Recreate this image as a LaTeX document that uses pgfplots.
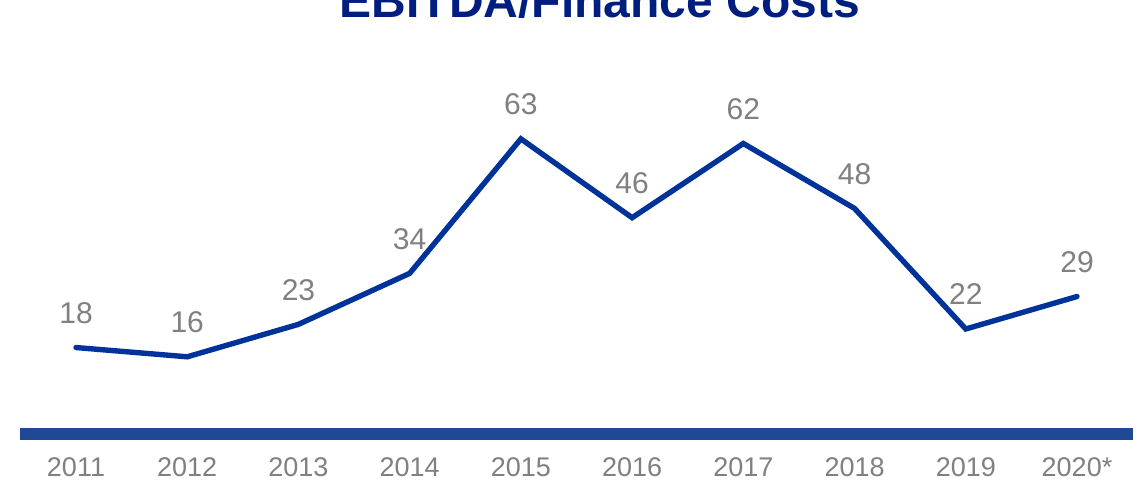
\documentclass[border=0pt]{standalone}
\usepackage{pgfplots}
\pgfplotsset{compat=1.18}
\usepackage{fontspec}
\setmainfont{Liberation Sans}
\definecolor{linecol}{RGB}{0,51,153}
\definecolor{barcol}{RGB}{31,73,148}
\definecolor{titlecol}{RGB}{0,30,128}
\definecolor{txtgray}{RGB}{128,128,128}
\begin{document}
\begin{tikzpicture}
\useasboundingbox (0,0) rectangle (571pt,241pt);
\node[anchor=base,font=\fontsize{24pt}{28pt}\selectfont\bfseries,text=titlecol,inner sep=0pt] at (300pt,232pt) {EBITDA/Finance Costs};
\begin{axis}[
  at={(10.2pt,25.5pt)}, anchor=south west,
  scale only axis, width=556.1pt, height=162.3pt,
  xmin=-0.5, xmax=9.5, ymin=0, ymax=70,
  hide y axis, axis x line=bottom, x axis line style={draw=none,-},
  major tick length=0pt, clip=false,
  /pgf/number format/assume math mode=true,
  xtick={0,...,9},
  xticklabels={2011,2012,2013,2014,2015,2016,2017,2018,2019,2020*},
  xticklabel style={anchor=base,yshift=-23pt,font=\fontsize{13.5pt}{16pt}\selectfont,text=txtgray},
  nodes near coords,
  every node near coord/.append style={anchor=base,yshift=12pt,inner sep=0pt,font=\fontsize{15pt}{17pt}\selectfont,text=txtgray},
]
\fill[barcol] ([yshift=-4.5pt]rel axis cs:0,0) rectangle ([yshift=1.5pt]rel axis cs:1,0);
\addplot[linecol, line width=2.7pt, line cap=round, mark=none] coordinates {
(0,18) (1,16) (2,23) (3,34) (4,63) (5,46) (6,62) (7,48) (8,22) (9,29)};
\end{axis}
\end{tikzpicture}
\end{document}
